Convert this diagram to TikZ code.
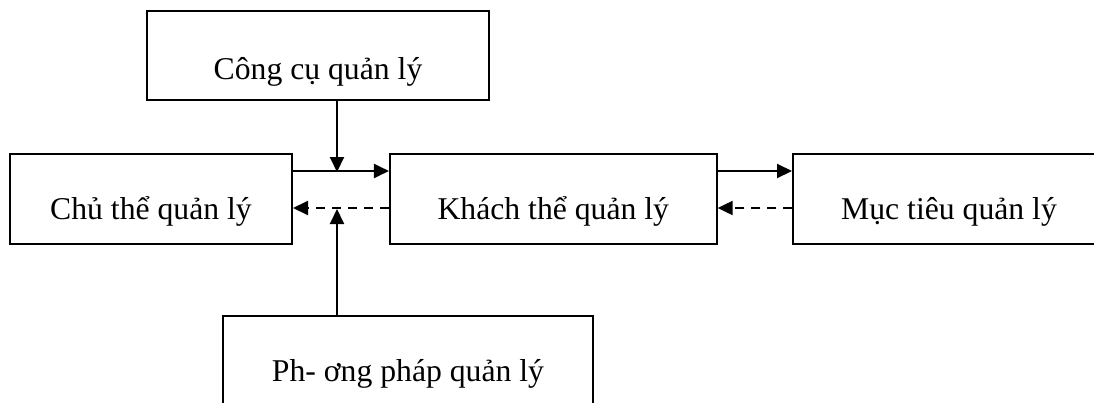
\documentclass[tikz,border=0pt]{standalone}
\usepackage{fontspec}
\setmainfont{Liberation Serif}
\usetikzlibrary{arrows.meta}
\begin{document}
\begin{tikzpicture}[x=1pt,y=-1pt,
  box/.style={draw,line width=2pt,rectangle,inner sep=0pt,text height=40pt,text depth=0pt,font=\fontsize{31.7}{38}\selectfont},
  conn/.style={line width=2pt,-{Triangle[length=15pt,width=14pt]}},
  dconn/.style={conn,dash pattern=on 9pt off 7pt}]
\useasboundingbox (0,0) rectangle (1094,402);
\node[box,text height=47pt,minimum width=342pt,minimum height=89pt] (cc) at (318,55.5) {Công cụ quản lý};
\node[box,minimum width=282pt,minimum height=90pt] (ct) at (151,199) {Chủ thể quản lý};
\node[box,minimum width=326.7pt,minimum height=90pt] (kt) at (553.3,199) {Khách thể quản lý};
\node[box,minimum width=312pt,minimum height=90pt] (mt) at (949,199) {Mục tiêu quản lý};
\node[box,minimum width=370pt,minimum height=90pt] (pp) at (408,361) {Ph- ơng pháp quản lý};
\coordinate (j1) at (337,172);
\coordinate (j2) at (337,209);
\draw[conn] ([yshift=-18pt]ct.north east) -- ([yshift=-18pt]kt.north west);
\draw[dconn] ([yshift=-55pt]kt.north west) -- ([yshift=-55pt]ct.north east);
\draw[conn] ([yshift=-18pt]kt.north east) -- ([yshift=-18pt]mt.north west);
\draw[dconn] ([yshift=-55pt]mt.north west) -- ([yshift=-55pt]kt.north east);
\draw[conn] (cc.south -| j1) -- (j1);
\draw[conn] (pp.north -| j2) -- (j2);
\end{tikzpicture}
\end{document}
